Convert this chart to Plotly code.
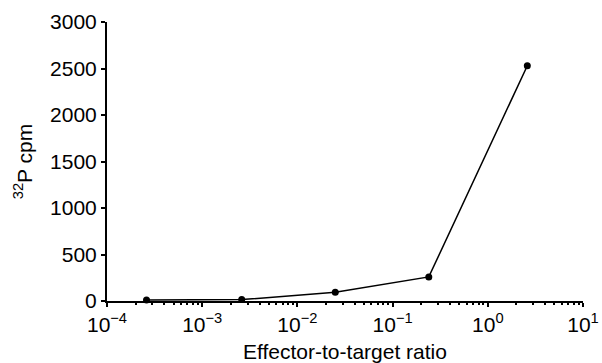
import plotly.graph_objects as go

ratio = [0.00026, 0.0026, 0.025, 0.24, 2.6]
cpm = [12, 15, 93, 259, 2530]

x_tick_vals = [1e-4, 1e-3, 1e-2, 1e-1, 1e0, 1e1]
x_tick_text = ["10<sup>\u22124</sup>", "10<sup>\u22123</sup>", "10<sup>\u22122</sup>",
               "10<sup>\u22121</sup>", "10<sup>0</sup>", "10<sup>1</sup>"]
y_tick_vals = [0, 500, 1000, 1500, 2000, 2500, 3000]

minor_vals = [k * 10.0 ** e for e in range(-4, 1) for k in range(2, 10)]

fig = go.Figure()
fig.add_trace(go.Scatter(
    x=ratio, y=cpm, mode="lines+markers",
    line=dict(color="black", width=1.5),
    marker=dict(color="black", size=7),
    showlegend=False,
    cliponaxis=False,
))

fig.update_layout(
    width=602, height=363,
    margin=dict(l=107, r=19, t=22, b=62, autoexpand=False),
    paper_bgcolor="white", plot_bgcolor="white",
    font=dict(family="Liberation Sans, Arial, sans-serif", size=21, color="black"),
    xaxis=dict(
        type="log", range=[-4, 1], automargin=False,
        tickvals=x_tick_vals, ticktext=x_tick_text,
        ticks="outside", ticklen=4, tickwidth=1.5, tickcolor="black",
        showline=True, linecolor="black", linewidth=2,
        showgrid=False, zeroline=False,
        minor=dict(tickvals=minor_vals, ticks="outside", ticklen=2, tickcolor="black", showgrid=False),
        title=dict(text="Effector-to-target ratio", font=dict(size=21), standoff=10),
        tickfont=dict(size=21),
    ),
    yaxis=dict(
        range=[0, 3000], automargin=False,
        tickvals=y_tick_vals,
        ticks="outside", ticklen=4, tickwidth=1.5, tickcolor="black",
        showline=True, linecolor="black", linewidth=2,
        showgrid=False, zeroline=False,
        title=dict(text="<sup>32</sup>P cpm", font=dict(size=21), standoff=12),
        tickfont=dict(size=21),
    ),
)

fig.write_html("out.html", config={"displayModeBar": False},
               post_script="document.body.style.margin='0px';document.body.style.overflow='hidden';")
